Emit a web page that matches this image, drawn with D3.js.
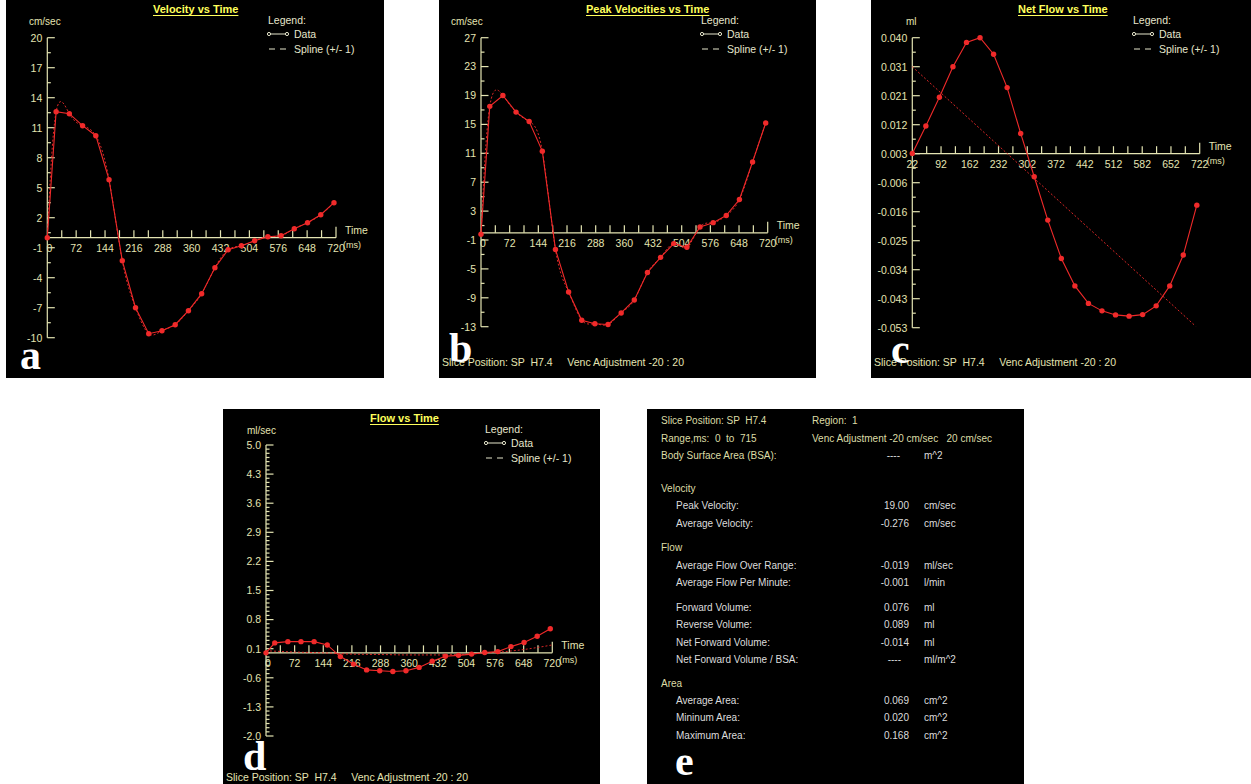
<!DOCTYPE html>
<html>
<head>
<meta charset="utf-8">
<script src="https://cdn.jsdelivr.net/npm/d3@7"></script>
<style>
  html, body { margin: 0; padding: 0; background: #ffffff; }
  svg { display: block; }
  text { font-family: "Liberation Sans", Arial, sans-serif; }
</style>
</head>
<body>
<svg id="fig" width="1251" height="784"></svg>
<script>
// ---- sample times (ms) ----
const sampleTimes = [0, 22, 55, 88, 121, 154, 187, 220, 253, 286, 319, 352, 385, 418, 451, 484, 517, 550, 583, 616, 649, 682, 715];
const netFlowTimes = [22, 55, 88, 121, 154, 187, 220, 253, 286, 319, 352, 385, 418, 451, 484, 517, 550, 583, 616, 649, 682, 715];

// ---- series ----
const velocity = [0, 12.6, 12.4, 11.2, 10.2, 5.8, -2.3, -7.0, -9.6, -9.3, -8.7, -7.3, -5.6, -3.0, -1.2, -0.8, -0.3, 0.1, 0.2, 0.9, 1.5, 2.3, 3.5];
const peakVelocity = [-0.2, 17.5, 19.0, 16.7, 15.4, 11.3, -2.3, -8.2, -12.1, -12.6, -12.7, -11.1, -9.3, -5.5, -3.4, -1.5, -2.0, 0.8, 1.4, 2.4, 4.6, 9.8, 15.2];
const netFlow = [0.0029, 0.0117, 0.0209, 0.0307, 0.0385, 0.0400, 0.0347, 0.0240, 0.0093, -0.0046, -0.0185, -0.0308, -0.0396, -0.0452, -0.0476, -0.0489, -0.0493, -0.0488, -0.0460, -0.0396, -0.0297, -0.0137];
const netFlowTrendTimes = [22, 712];
const netFlowTrend = [0.0307, -0.0525];
const flow = [0.0, 0.24, 0.27, 0.27, 0.27, 0.19, -0.09, -0.27, -0.41, -0.43, -0.45, -0.43, -0.35, -0.20, -0.08, -0.06, -0.03, 0.01, 0.03, 0.15, 0.25, 0.40, 0.58];
const flowFitTimes = [0, 72, 144, 216, 288, 360, 432, 504, 576, 648, 720];
const flowFit = [0.05, 0.02, 0.0, -0.03, -0.04, -0.05, -0.05, -0.03, 0.01, 0.08, 0.19];

// ---- tick labels ----
const timeTicks = [0, 72, 144, 216, 288, 360, 432, 504, 576, 648, 720];
const netTimeTicks = [22, 92, 162, 232, 302, 372, 442, 512, 582, 652, 722];
const velocityTicks = ["20", "17", "14", "11", "8", "5", "2", "-1", "-4", "-7", "-10"];
const peakTicks = ["27", "23", "19", "15", "11", "7", "3", "-1", "-5", "-9", "-13"];
const netFlowTicks = ["0.040", "0.031", "0.021", "0.012", "0.003", "-0.006", "-0.016", "-0.025", "-0.034", "-0.043", "-0.053"];
const flowTicks = ["5.0", "4.3", "3.6", "2.9", "2.2", "1.5", "0.8", "0.1", "-0.6", "-1.3", "-2.0"];

// ---- summary table ----
const headerRows = [
  ["Slice Position: SP  H7.4", "Region:  1"],
  ["Range,ms:  0  to  715", "Venc Adjustment -20 cm/sec   20 cm/sec"]
];
const statGroups = ["Velocity", "Flow", "Area"];
const statNames = ["Peak Velocity:", "Average Velocity:", "Average Flow Over Range:", "Average Flow Per Minute:",
  "Forward Volume:", "Reverse Volume:", "Net Forward Volume:", "Net Forward Volume / BSA:",
  "Average Area:", "Mininum Area:", "Maximum Area:"];
const statValues = ["19.00", "-0.276", "-0.019", "-0.001", "0.076", "0.089", "-0.014", "----", "0.069", "0.020", "0.168"];
const statUnits = ["cm/sec", "cm/sec", "ml/sec", "l/min", "ml", "ml", "ml", "ml/m^2", "cm^2", "cm^2", "cm^2"];

const footerText = "Slice Position: SP  H7.4     Venc Adjustment -20 : 20";

// ---- styling ----
const AXIS = "#e4e4b2";
const TITLE = "#ffff5c";
const RED = "#f02a2a";
const LEG = "#e6e6cc";

const svg = d3.select("#fig");

function panelBox(left, top, width, height) {
  const g = svg.append("g").attr("transform", `translate(${left},${top})`);
  g.append("rect").attr("width", width).attr("height", height).attr("fill", "#000");
  return g;
}

function panelLetter(g, letter, x, y) {
  g.append("text").attr("x", x).attr("y", y)
    .attr("fill", "#fff")
    .style("font-family", '"Liberation Serif", "Times New Roman", serif')
    .style("font-weight", "bold").style("font-size", "42px")
    .text(letter);
}

function drawChart(g, cfg) {
  const x = d3.scaleLinear().domain([cfg.xTicks[0], cfg.xTicks[cfg.xTicks.length - 1]]).range([cfg.ox, cfg.right]);
  const yTop = +cfg.yTicks[0], yBot = +cfg.yTicks[cfg.yTicks.length - 1];
  const y = d3.scaleLinear().domain([yBot, yTop]).range([cfg.bottom, cfg.top]);
  const nY = cfg.yTicks.length;
  const yStep = (yTop - yBot) / (nY - 1);
  const tickVal = i => yTop - i * yStep;
  const base = cfg.baseTick == null ? 0 : tickVal(cfg.baseTick);
  const y0 = y(base);

  // title
  const t = g.append("text").attr("x", 147).attr("y", 13)
    .attr("fill", TITLE).style("font-weight", "bold").style("font-size", "11px")
    .text(cfg.title);
  const tw = t.node().getComputedTextLength();
  g.append("line").attr("x1", 147).attr("x2", 147 + tw).attr("y1", 15.5).attr("y2", 15.5)
    .attr("stroke", TITLE).attr("stroke-width", 1);

  // unit
  g.append("text").attr("x", cfg.unitX).attr("y", 25).attr("fill", AXIS)
    .style("font-size", "10px").text(cfg.unit);

  // legend
  g.append("text").attr("x", 262).attr("y", 24).attr("fill", LEG).style("font-size", "10.5px").text("Legend:");
  g.append("line").attr("x1", 263).attr("x2", 281).attr("y1", 34).attr("y2", 34).attr("stroke", LEG);
  [263, 281].forEach(cx => g.append("circle").attr("cx", cx).attr("cy", 34).attr("r", 1.6)
    .attr("fill", "#000").attr("stroke", LEG).attr("stroke-width", 1));
  g.append("text").attr("x", 288).attr("y", 37.5).attr("fill", LEG).style("font-size", "10.5px").text("Data");
  g.append("line").attr("x1", 263).attr("x2", 281).attr("y1", 49).attr("y2", 49)
    .attr("stroke", LEG).attr("stroke-dasharray", "6,5");
  g.append("text").attr("x", 288).attr("y", 52.5).attr("fill", LEG).style("font-size", "10.5px").text("Spline (+/- 1)");

  // y axis
  g.append("line").attr("x1", cfg.ox).attr("x2", cfg.ox).attr("y1", cfg.top).attr("y2", cfg.bottom)
    .attr("stroke", AXIS).attr("stroke-width", 1.2);
  cfg.yTicks.forEach((lab, i) => {
    const yy = y(tickVal(i));
    g.append("line").attr("x1", cfg.ox).attr("x2", cfg.ox + 7.5).attr("y1", yy).attr("y2", yy)
      .attr("stroke", AXIS).attr("stroke-width", 1.2);
    g.append("text").attr("x", cfg.ox - 5).attr("y", yy + 3.8).attr("text-anchor", "end")
      .attr("fill", AXIS).style("font-size", "10.5px").text(lab);
    if (i < nY - 1) {
      for (let k = 1; k < cfg.yMinor; k++) {
        const ym = y(tickVal(i) - k * yStep / cfg.yMinor);
        g.append("line").attr("x1", cfg.ox).attr("x2", cfg.ox + 3.5).attr("y1", ym).attr("y2", ym)
          .attr("stroke", AXIS).attr("stroke-width", 1.2);
      }
    }
  });

  // x axis
  g.append("line").attr("x1", cfg.ox).attr("x2", cfg.right).attr("y1", y0).attr("y2", y0)
    .attr("stroke", AXIS).attr("stroke-width", 1.2);
  const xStep = cfg.xTicks[1] - cfg.xTicks[0];
  cfg.xTicks.forEach((v, i) => {
    const xx = x(v);
    const last = i === cfg.xTicks.length - 1;
    if (i > 0) {
      g.append("line").attr("x1", xx).attr("x2", xx).attr("y1", y0).attr("y2", y0 - (last ? 11 : 7.5))
        .attr("stroke", AXIS).attr("stroke-width", 1.2);
    }
    if (i < cfg.xTicks.length - 1) {
      const xm = x(v + xStep / 2);
      g.append("line").attr("x1", xm).attr("x2", xm).attr("y1", y0).attr("y2", y0 - 7.5)
        .attr("stroke", AXIS).attr("stroke-width", 1.2);
    }
    g.append("text").attr("x", i === 0 && cfg.zeroShift ? xx + cfg.zeroShift : xx).attr("y", y0 + 14)
      .attr("text-anchor", "middle").attr("fill", AXIS).style("font-size", "10.5px").text(v);
  });
  g.append("text").attr("x", cfg.right + 9).attr("y", y0 - 4).attr("fill", AXIS)
    .style("font-size", "10.5px").text("Time");
  g.append("text").attr("x", cfg.right + 7).attr("y", y0 + 10).attr("fill", AXIS)
    .style("font-size", "9px").text("(ms)");

  // fitted / spline curve
  if (cfg.fit) {
    const pts = cfg.fit.t.map((tt, i) => [tt, cfg.fit.v[i]]);
    g.append("path").datum(pts)
      .attr("d", d3.line().x(d => x(d[0])).y(d => y(d[1])).curve(cfg.fit.curve))
      .attr("fill", "none").attr("stroke", RED).attr("stroke-width", 1)
      .attr("stroke-dasharray", "2,2").attr("opacity", 0.9);
  }

  // data line + markers
  const data = cfg.t.map((tt, i) => [tt, cfg.v[i]]);
  g.append("path").datum(data)
    .attr("d", d3.line().x(d => x(d[0])).y(d => y(d[1])))
    .attr("fill", "none").attr("stroke", RED).attr("stroke-width", 1.1);
  g.selectAll(null).data(data).enter().append("circle")
    .attr("cx", d => x(d[0])).attr("cy", d => y(d[1])).attr("r", 2.7)
    .attr("fill", RED);

  if (cfg.footer != null) {
    g.append("text").attr("x", 3).attr("y", cfg.footer).attr("fill", AXIS)
      .style("font-size", "10.5px").style("white-space", "pre").text(footerText);
  }
}

// ---- panel a ----
const pa = panelBox(6, 0, 378, 378);
drawChart(pa, {
  title: "Velocity vs Time", unit: "cm/sec", unitX: 23,
  ox: 41.3, right: 330, top: 37.7, bottom: 337.7,
  xTicks: timeTicks, yTicks: velocityTicks, yMinor: 2, zeroShift: 2,
  t: sampleTimes, v: velocity,
  fit: { t: sampleTimes, v: velocity, curve: d3.curveNatural }
});
panelLetter(pa, "a", 14, 369);

// ---- panel b ----
const pb = panelBox(439, 0, 377, 378);
drawChart(pb, {
  title: "Peak Velocities vs Time", unit: "cm/sec", unitX: 12,
  ox: 42, right: 328.7, top: 37.7, bottom: 326.7,
  xTicks: timeTicks, yTicks: peakTicks, yMinor: 2, zeroShift: 2,
  t: sampleTimes, v: peakVelocity,
  fit: { t: sampleTimes, v: peakVelocity, curve: d3.curveNatural },
  footer: 366
});
panelLetter(pb, "b", 10, 362);

// ---- panel c ----
const pc = panelBox(871, 0, 380, 378);
drawChart(pc, {
  title: "Net Flow vs Time", unit: "ml", unitX: 35,
  ox: 41.3, right: 328.7, top: 37.7, bottom: 327.7,
  xTicks: netTimeTicks, yTicks: netFlowTicks, yMinor: 2, baseTick: 4,
  t: netFlowTimes, v: netFlow,
  fit: { t: netFlowTrendTimes, v: netFlowTrend, curve: d3.curveLinear },
  footer: 366
});
panelLetter(pc, "c", 20, 363);

// ---- panel d ----
const pd = panelBox(223, 409, 377, 375);
drawChart(pd, {
  title: "Flow vs Time", unit: "ml/sec", unitX: 24,
  ox: 43, right: 329.3, top: 36, bottom: 327,
  xTicks: timeTicks, yTicks: flowTicks, yMinor: 7, zeroShift: 2,
  t: sampleTimes, v: flow,
  fit: { t: flowFitTimes, v: flowFit, curve: d3.curveMonotoneX },
  footer: 372
});
panelLetter(pd, "d", 20, 361);

// ---- panel e: summary table ----
const pe = panelBox(647, 409, 377, 375);
const HEAD = "#dcdca6", ITEM = "#dcdcdc";
function txt(g, x, y, s, color, anchor) {
  g.append("text").attr("x", x).attr("y", y).attr("fill", color)
    .attr("text-anchor", anchor || "start")
    .style("font-size", "10px").style("white-space", "pre").text(s);
}
txt(pe, 14, 15, headerRows[0][0], HEAD);
txt(pe, 165, 15, headerRows[0][1], HEAD);
txt(pe, 14, 32.5, headerRows[1][0], HEAD);
txt(pe, 165, 32.5, headerRows[1][1], HEAD);
txt(pe, 14, 50, "Body Surface Area (BSA):", HEAD);
txt(pe, 253, 50, "----", ITEM, "end");
txt(pe, 277, 50, "m^2", ITEM);

const groupY = [82.5, 141.7, 277.7];
statGroups.forEach((s, i) => txt(pe, 14, groupY[i], s, HEAD));
const rowY = [100, 117.7, 160, 176.7, 201.7, 219, 236.7, 254.3, 295, 312.3, 330];
statNames.forEach((s, i) => {
  txt(pe, 29, rowY[i], s, ITEM);
  const dashed = statValues[i] === "----";
  txt(pe, dashed ? 254 : 262, rowY[i], statValues[i], ITEM, "end");
  txt(pe, 277, rowY[i], statUnits[i], ITEM);
});
panelLetter(pe, "e", 28, 366);
</script>
</body>
</html>
